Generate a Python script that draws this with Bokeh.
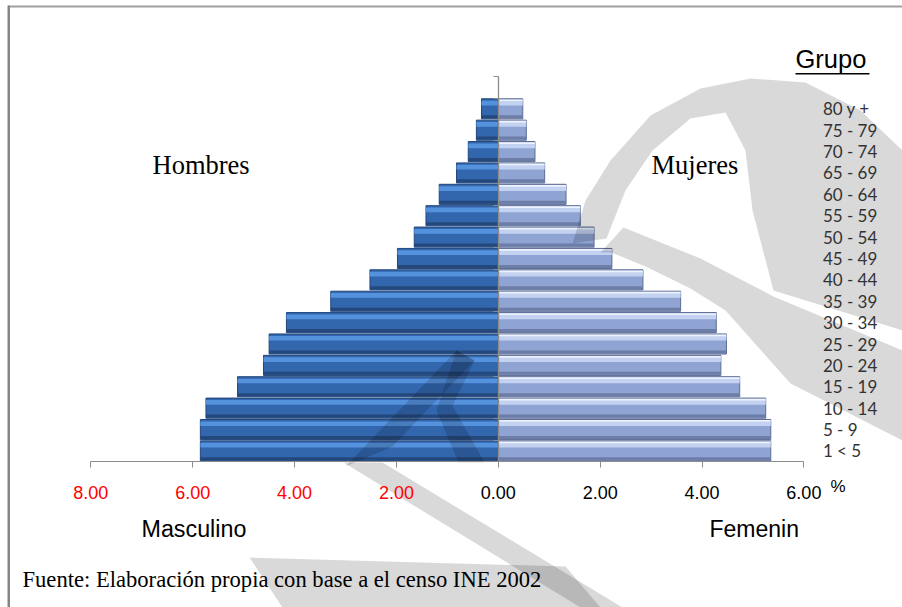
from bokeh.plotting import figure
from bokeh.models import (FixedTicker, LabelSet, ColumnDataSource,
                          BoxAnnotation, LinearAxis)
from bokeh.transform import dodge
from bokeh.embed import file_html
from bokeh.resources import INLINE
from bokeh.core.properties import value

# ---------------- data ----------------
grupos = ["1 < 5", "5 - 9", "10 - 14", "15 - 19", "20 - 24", "25 - 29", "30 - 34",
          "35 - 39", "40 - 44", "45 - 49", "50 - 54", "55 - 59", "60 - 64",
          "65 - 69", "70 - 74", "75 - 79", "80 y +"]
hombres = [5.85, 5.85, 5.74, 5.12, 4.61, 4.50, 4.16, 3.29, 2.52, 1.98, 1.65,
           1.42, 1.16, 0.82, 0.59, 0.43, 0.33]
mujeres = [5.35, 5.35, 5.25, 4.74, 4.37, 4.48, 4.28, 3.58, 2.84, 2.23, 1.88,
           1.61, 1.33, 0.91, 0.72, 0.55, 0.48]
tick_vals = [-8, -6, -4, -2, 0, 2, 4, 6]
tick_labels = ["8.00", "6.00", "4.00", "2.00", "0.00", "2.00", "4.00", "6.00"]

# ---------------- geometry (page pixels) ----------------
W, H = 902, 607
X0PX, XUNIT = 497.8, 50.93   # pixel of x = 0, pixels per unit
Y0PX, YUNIT = 450.4, 21.38   # pixel of first group centre, pixels per group

def dx(px):
    return (px - X0PX) / XUNIT

def dy(py):
    return (Y0PX - py) / YUNIT

p = figure(width=W, height=H, x_range=(dx(0), dx(W)), y_range=(dy(H), dy(0)),
           x_axis_type=None, y_axis_type=None,
           output_backend="svg", toolbar_location=None)
p.min_border = 0
p.min_border_left = 0
p.min_border_right = 0
p.min_border_top = 0
p.min_border_bottom = 0
p.xgrid.visible = False
p.ygrid.visible = False
p.outline_line_color = None
p.background_fill_color = "white"
p.border_fill_color = "white"

nb = len(grupos)
posiciones = list(range(nb))

# ---------------- axes ----------------
xaxis = LinearAxis(fixed_location=-0.5, bounds=(tick_vals[0], tick_vals[-1]),
                   ticker=FixedTicker(ticks=tick_vals),
                   major_label_overrides={v: "" for v in tick_vals},
                   major_label_text_font_size="0px",
                   axis_line_color="#8c8c8c", major_tick_line_color="#8c8c8c",
                   major_tick_in=0, major_tick_out=6, minor_tick_line_color=None)
p.add_layout(xaxis, "below")

bounds_y = [k - 0.5 for k in range(nb + 2)]
zaxis = LinearAxis(fixed_location=0, bounds=(bounds_y[0], bounds_y[-1]),
                   ticker=FixedTicker(ticks=bounds_y),
                   major_label_overrides={v: "" for v in bounds_y},
                   major_label_text_font_size="0px",
                   axis_line_color="#8c8c8c", axis_line_width=1.3,
                   major_tick_line_color="#8c8c8c",
                   major_tick_in=0, major_tick_out=5, minor_tick_line_color=None)
p.add_layout(zaxis, "left")

gaxis = LinearAxis(fixed_location=tick_vals[-1], ticker=FixedTicker(ticks=posiciones),
                   major_label_overrides={i: g for i, g in enumerate(grupos)},
                   axis_line_color=None, major_tick_line_color=None,
                   minor_tick_line_color=None, major_tick_in=0, major_tick_out=0,
                   major_label_standoff=19, major_label_text_font="Lato",
                   major_label_text_font_size="17px",
                   major_label_text_color="#333333")
p.add_layout(gaxis, "right")

# ---------------- bars ----------------
src = ColumnDataSource(dict(y=posiciones, h=[-v for v in hombres], m=mujeres,
                            z=[0] * nb))

p.hbar(y="y", left="h", right="z", height=0.94, source=src,
       fill_color="#3266ad", line_color="#22467a", line_width=1)
p.hbar(y=dodge("y", 0.27), left="h", right="z", height=0.22,
       source=src, fill_color="#5592de", line_color=None)
p.hbar(y=dodge("y", -0.37), left="h", right="z", height=0.14,
       source=src, fill_color="#24487c", line_color=None)

p.hbar(y="y", left="z", right="m", height=0.94, source=src,
       fill_color="#8fa4d3", line_color="#5c6c93", line_width=1)
p.hbar(y=dodge("y", 0.27), left="z", right="m", height=0.22,
       source=src, fill_color="#c3d2f1", line_color=None)
p.hbar(y=dodge("y", 0.4), left="z", right="m", height=0.08,
       source=src, fill_color="#eef3ff", line_color=None)
p.hbar(y=dodge("y", -0.37), left="z", right="m", height=0.14,
       source=src, fill_color="#6c7da8", line_color=None)

# ---------------- background watermark (decoration, page pixels) ----------------
marca = [
    [(343, 462), (382, 462), (622, 607), (580, 607)],
    [(249, 557), (565, 566), (600, 607), (282, 607)],
    [(345, 466), (456, 350), (474, 360), (392, 446)],
    [(474, 360), (452, 405), (484, 462), (458, 462), (436, 410), (456, 350)],
    [(572, 243), (585, 200), (610, 160), (650, 115), (700, 88), (750, 78),
     (805, 82), (860, 110), (902, 150), (902, 330), (773, 290), (752, 210),
     (745, 150), (725, 112), (690, 118), (652, 150), (625, 190), (606, 238)],
    [(600, 252), (623, 227), (700, 258), (773, 296), (902, 350), (902, 440),
     (790, 383), (725, 310), (690, 288), (645, 266), (611, 252)],
]
p.patches(xs=[[dx(a) for a, b in poly] for poly in marca],
          ys=[[dy(b) for a, b in poly] for poly in marca],
          fill_color="#000000", fill_alpha=0.15, line_color=None)

# ---------------- tick labels ----------------
tick_colors = ["#ff0000" if v < 0 else "#000000" for v in tick_vals]
tsrc = ColumnDataSource(dict(x=tick_vals, y=[dy(498)] * len(tick_vals),
                             t=tick_labels, c=tick_colors))
p.add_layout(LabelSet(x="x", y="y", text="t", text_color="c", source=tsrc,
                      text_align="center", text_baseline="alphabetic",
                      text_font=value("Liberation Sans"), text_font_size="18px"))

# ---------------- free texts ----------------
textos = ["Hombres", "Mujeres", "Masculino", "Femenin", "%", "Grupo",
          "Fuente: Elaboración propia con base a el censo INE 2002"]
tx = [152, 651, 141, 709, 830, 795, 22]
ty = [173.5, 173.5, 536, 536, 491, 67, 586]
tf = ["Liberation Serif", "Liberation Serif", "Liberation Sans", "Liberation Sans",
      "Liberation Sans", "Liberation Sans", "Liberation Serif"]
ts = ["26.5px", "26.5px", "23.3px", "23px", "17px", "25.5px", "22.6px"]
fsrc = ColumnDataSource(dict(x=[dx(v) for v in tx], y=[dy(v) for v in ty],
                             t=textos, f=tf, s=ts))
p.add_layout(LabelSet(x="x", y="y", text="t", source=fsrc, text_font="f",
                      text_font_size="s", text_align="left",
                      text_baseline="alphabetic", text_color="#000000"))

# underline of "Grupo"
p.add_layout(BoxAnnotation(left=dx(795), right=dx(869), top=dy(72.5), bottom=dy(74),
                           fill_color="#000000", fill_alpha=1, line_color=None))
# chart border (top and left)
p.add_layout(BoxAnnotation(left=dx(8), right=dx(905), top=dy(5), bottom=dy(7),
                           fill_color="#a0a0a0", fill_alpha=1, line_color=None))
p.add_layout(BoxAnnotation(left=dx(7), right=dx(9.5), top=dy(5), bottom=dy(620),
                           fill_color="#858585", fill_alpha=1, line_color=None))

open("out.html", "w").write(file_html(p, INLINE))
